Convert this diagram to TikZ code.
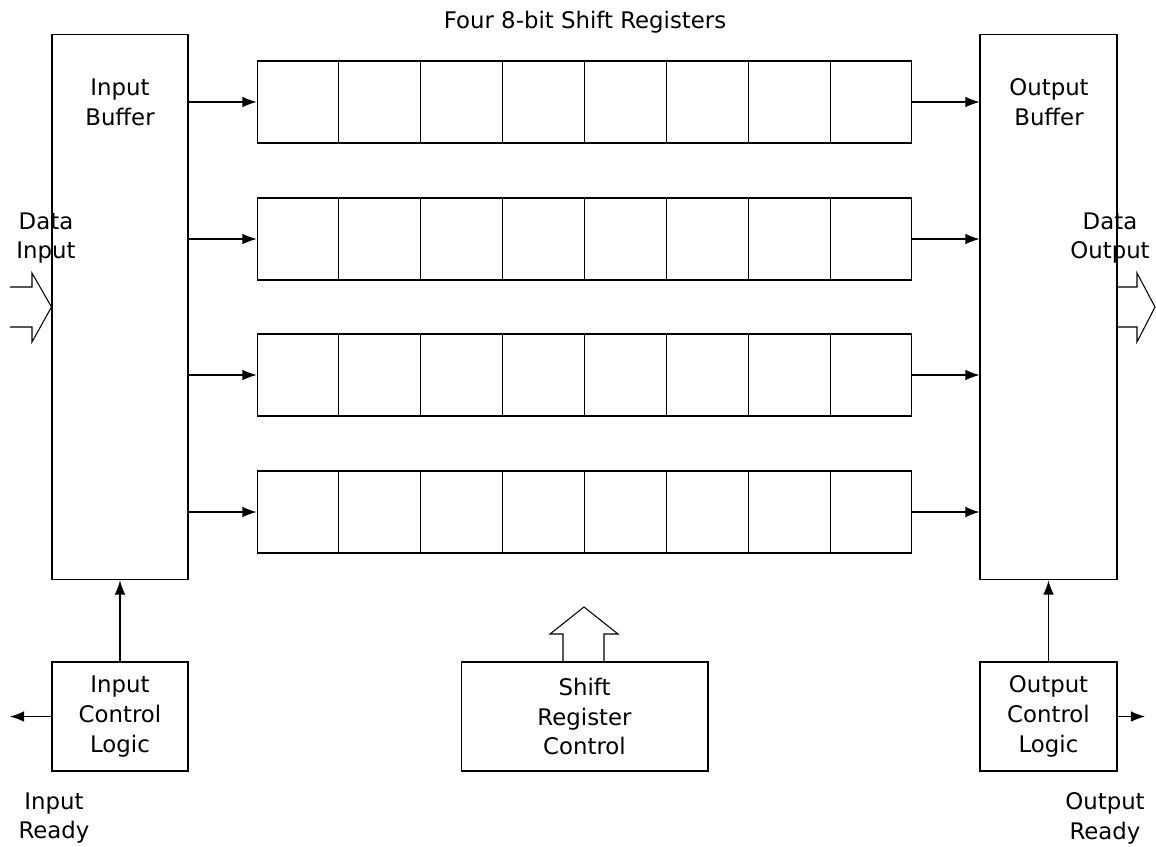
\documentclass[tikz,border=0pt]{standalone}
\usepackage{fontspec}
\setmainfont{DejaVu Sans}
\usetikzlibrary{arrows.meta,positioning,calc}

\tikzset{
  blk/.style={draw, line width=0.6pt, inner sep=0pt},
  lbl/.style={align=center, font=\fontsize{13}{17}\selectfont},
  sig/.style={-{Latex[length=8pt,width=6pt]}, line width=0.6pt},
  hollow/.style={draw, line width=0.6pt, line join=miter},
}

\begin{document}
\begin{tikzpicture}[x=0.02cm, y=-0.02cm]
  \useasboundingbox (0,0) rectangle (1156,846);
  \clip (0,0) rectangle (1156,846);

  % Buffers
  \node[blk, minimum width=2.72cm, minimum height=10.92cm] (inbuf) at (120,307) {};
  \node[blk, minimum width=2.74cm, minimum height=10.92cm] (outbuf) at (1048.5,307) {};
  \node[lbl] (inbuftxt) at (120,102) {Input\\Buffer};
  \node[lbl] (outbuftxt) at (1049,102) {Output\\Buffer};

  % Shift registers
  \node[lbl] (title) at (585,22) {Four 8-bit Shift Registers};
  \foreach \r/\y in {1/102, 2/239, 3/375, 4/512} {
    \node[blk, minimum width=13.1cm, minimum height=1.64cm] (reg\r) at (584.5,\y) {};
    \foreach \i in {1,...,7}
      \draw[line width=0.6pt] ($(reg\r.north west)!\i/8!(reg\r.north east)$)
        -- ($(reg\r.south west)!\i/8!(reg\r.south east)$);
    \draw[sig] (inbuf.east |- reg\r.west) -- (reg\r.west);
    \draw[sig] (reg\r.east) -- (outbuf.west |- reg\r.east);
  }

  % Control blocks
  \node[blk, lbl, minimum width=2.72cm, minimum height=2.18cm] (inctl) at (120,716.5)
    {Input\\Control\\Logic};
  \node[blk, lbl, minimum width=4.94cm, minimum height=2.18cm] (srctl) at (584.5,716.5)
    {Shift\\Register\\Control};
  \node[blk, lbl, minimum width=2.74cm, minimum height=2.18cm] (outctl) at (1048.5,716.5)
    {Output\\Control\\Logic};

  \draw[sig] (inctl.north) -- (inbuf.south);
  \draw[sig] (outctl.north) -- (outbuf.south);

  % Ready signals
  \coordinate (inrdy) at (10,716.5);
  \coordinate (outrdy) at (1145,716.5);
  \draw[sig] (inctl.west) -- (inrdy);
  \draw[sig] (outctl.east) -- (outrdy);
  \node[lbl] (inrdytxt) at (54,818) {Input\\Ready};
  \node[lbl] (outrdytxt) at (1105,818) {Output\\Ready};

  % Data in / out
  \node[lbl] (dintxt) at (46,238) {Data\\Input};
  \node[lbl] (douttxt) at (1110,238) {Data\\Output};
  \draw[hollow] (10,287) -- (32,287) -- (32,273) -- (inbuf.west)
    -- (32,342) -- (32,327) -- (10,327);
  \draw[hollow] (outbuf.east |- 0,287) -- (1137,287) -- (1137,273) -- (1155,307)
    -- (1137,342) -- (1137,327) -- (outbuf.east |- 0,327);

  % Shift control arrow
  \draw[hollow] (563,662) -- (563,634) -- (550,634) -- (584,607)
    -- (618,634) -- (604,634) -- (604,662);

\end{tikzpicture}
\end{document}
